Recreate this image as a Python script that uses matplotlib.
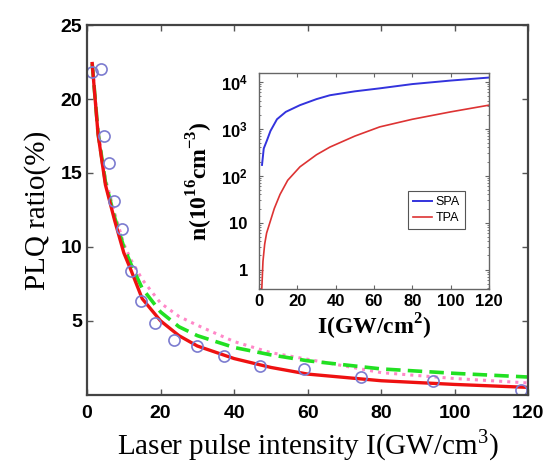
import matplotlib.pyplot as plt
import matplotlib.ticker as mticker
import numpy as np

plt.rcParams['mathtext.fontset'] = 'custom'
plt.rcParams['mathtext.rm'] = 'Liberation Serif'
plt.rcParams['mathtext.bf'] = 'Liberation Serif:bold'
plt.rcParams['mathtext.sf'] = 'Liberation Sans:bold'

# points mesures (cercles)
meas_x = [1.4, 3.8, 4.7, 6.0, 7.4, 9.5, 12.0, 14.8, 18.6, 23.6, 29.8, 37.3, 47.0, 59.0, 74.5, 94.0, 118.0]
meas_y = [21.8, 22.0, 17.5, 15.7, 13.1, 11.2, 8.4, 6.35, 4.85, 3.7, 3.3, 2.65, 1.95, 1.75, 1.2, 0.9, 0.3]

# courbes de fit
fit_x = [1.4, 3, 5, 7.5, 10, 12, 15, 20, 25, 30, 40, 50, 60, 80, 100, 120]
red_y = [22.4, 17.6, 14.2, 11.8, 9.6, 8.4, 6.5, 5.0, 4.0, 3.3, 2.45, 1.85, 1.4, 0.95, 0.7, 0.5]
green_y = [22.4, 17.7, 14.4, 12.0, 10.0, 8.8, 7.2, 5.6, 4.6, 4.0, 3.2, 2.7, 2.3, 1.75, 1.45, 1.2]
pink_y = [22.5, 17.9, 14.6, 12.3, 10.2, 9.1, 7.8, 6.2, 5.3, 4.7, 3.6, 2.85, 2.4, 1.5, 1.1, 0.8]

# inset : densite de porteurs
spa_x = [1.6, 2.5, 4.2, 6, 9.4, 14, 21.4, 30, 37, 50, 63, 80, 100, 120]
spa_y = [170, 380, 570, 900, 1600, 2300, 3200, 4300, 5200, 6300, 7300, 9000, 10700, 12400]
tpa_x = [1.5, 2.1, 3, 4, 5.7, 8, 11, 15, 21.4, 30, 37, 50, 63, 80, 100, 120]
tpa_y = [0.4, 1.5, 3.5, 6, 10, 20, 40, 80, 155, 280, 408, 700, 1100, 1600, 2300, 3200]

fig = plt.figure(figsize=(5.44, 4.65), dpi=100)
ax = fig.add_axes([0.160, 0.151, 0.811, 0.795])

ax.plot(fit_x, pink_y, ':', color='#ff88c8', lw=2.2)
ax.plot(fit_x, green_y, '--', color='#22e022', lw=2.6, dashes=(4, 2))
ax.plot(fit_x, red_y, '-', color='#ee1111', lw=2.4)
ax.plot(meas_x, meas_y, 'o', mfc='none', mec='#7c7cd0', ms=8, mew=1.2)

ax.set_xlim(0, 120)
ax.set_ylim(0, 25)
ax.set_xticks([0, 20, 40, 60, 80, 100, 120])
ax.set_yticks([5, 10, 15, 20, 25])
ax.tick_params(direction='in', top=True, right=True, labelsize=14, length=4, width=1, color='#555555')
ax.tick_params(axis='x', pad=7)
for lab in ax.get_xticklabels() + ax.get_yticklabels():
    lab.set_fontweight('bold')
    lab.set_family('Liberation Sans')
for s in ax.spines.values():
    s.set_linewidth(1.6)
    s.set_color('#444444')
ax.set_xlabel('Laser pulse intensity I(GW/cm$^3$)', family='Liberation Serif', fontsize=21, labelpad=4)
ax.set_ylabel('PLQ ratio(%)', family='Liberation Serif', fontsize=21, labelpad=7)

# inset
ins = fig.add_axes([0.476, 0.378, 0.423, 0.465])
ins.plot(spa_x, spa_y, color='#3333dd', lw=1.4, label='SPA')
ins.plot(tpa_x, tpa_y, color='#dd3333', lw=1.2, label='TPA')
ins.set_yscale('log')
ins.set_xlim(0, 120)
ins.set_ylim(0.38, 1.55e4)
ins.set_xticks([0, 20, 40, 60, 80, 100, 120])
ins.yaxis.set_major_locator(mticker.FixedLocator([1, 10, 100, 1000, 10000]))
ins.set_yticklabels(['1', '10', r'$\mathsf{10^2}$', r'$\mathsf{10^3}$', r'$\mathsf{10^4}$'])
ins.tick_params(which='both', direction='in', top=True, right=True, labelsize=12, color='#666666')
ins.tick_params(which='major', length=3)
ins.tick_params(which='minor', length=1.5)
ins.tick_params(axis='y', pad=8)
for lab in ins.get_xticklabels() + ins.get_yticklabels():
    lab.set_fontweight('bold')
    lab.set_family('Liberation Sans')
for s in ins.spines.values():
    s.set_linewidth(1.0)
    s.set_color('#666666')
ins.set_xlabel('I(GW/cm$^\\mathbf{2}$)', family='Liberation Serif', fontweight='bold', fontsize=17, labelpad=2)
ins.set_ylabel(r'n(10$^{\mathbf{16}}$cm$^{\mathbf{-3}}$)', family='Liberation Serif', fontweight='bold', fontsize=17, labelpad=4)
leg = ins.legend(loc='lower left', bbox_to_anchor=(0.62, 0.25), prop={'family': 'Liberation Sans', 'size': 9},
                 handlelength=1.5, handletextpad=0.3, borderpad=0.4, labelspacing=0.3, fancybox=False, framealpha=1)
leg.get_frame().set_edgecolor('#555555')
leg.get_frame().set_linewidth(0.8)

fig.savefig('out.png', dpi=100)
